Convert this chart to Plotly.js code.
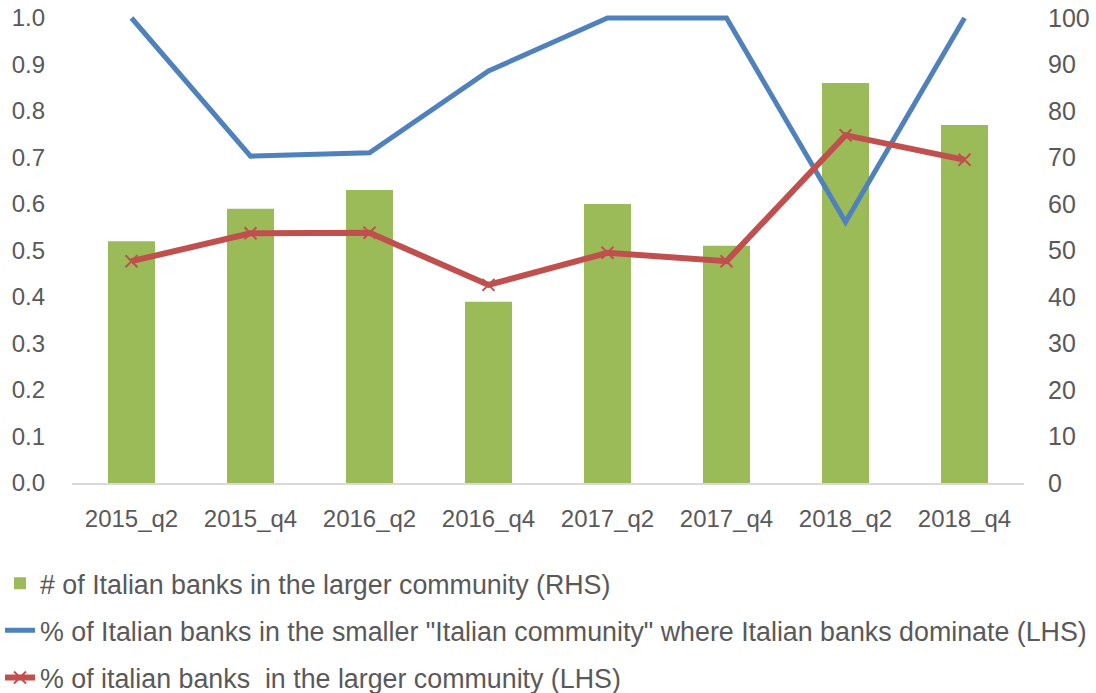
<!DOCTYPE html>
<html>
<head>
<meta charset="utf-8">
<script src="https://cdn.plot.ly/plotly-3.0.1.min.js"></script>
<style>html,body{margin:0;padding:0;background:#fff;}#chart{width:1096px;height:693px;}</style>
</head>
<body>
<div id="chart"></div>
<script>
const categories = ["2015_q2","2015_q4","2016_q2","2016_q4","2017_q2","2017_q4","2018_q2","2018_q4"];
const barValues = [52, 59, 63, 39, 60, 51, 86, 77];
const blueValues = [1.0, 0.703, 0.71, 0.886, 1.0, 1.0, 0.561, 1.0];
const redValues = [0.477, 0.537, 0.538, 0.426, 0.495, 0.477, 0.748, 0.695];
const barName = "# of Italian banks in the larger community (RHS)";
const blueName = "% of Italian banks in the smaller \"Italian community\" where Italian banks dominate (LHS)";
const redName = "% of italian banks  in the larger community (LHS)";

const FONT = "Liberation Sans, Arial, sans-serif";
const GREY = "#595959";
// Bars on the primary (right-hand) axis so the lines, on the overlaying left axis, are drawn above them
const traces = [
  {type:"bar", x:categories, y:barValues, name:barName, yaxis:"y",
   marker:{color:"#9bbb59"}, legendgroup:"a", hoverinfo:"skip"},
  {type:"scatter", mode:"lines", x:categories, y:blueValues, name:blueName, yaxis:"y2",
   line:{color:"#4f81bd", width:5}, legendgroup:"b"},
  {type:"scatter", mode:"lines+markers", x:categories, y:redValues, name:redName, yaxis:"y2",
   line:{color:"#c0504d", width:6}, marker:{symbol:"x-thin", size:12, color:"#c0504d", line:{color:"#c0504d", width:2}},
   legendgroup:"c"}
];
const layout = {
  width:1096, height:693,
  margin:{l:72, r:72, t:14, b:210, autoexpand:false},
  paper_bgcolor:"#fff", plot_bgcolor:"#fff",
  font:{family:FONT, size:24, color:GREY},
  bargap:0.605,
  showlegend:true,
  xaxis:{type:"category", showline:true, linecolor:"#d9d9d9", linewidth:1.5, showgrid:false, zeroline:false,
         ticks:"", ticklabelstandoff:14, tickfont:{family:FONT, size:24, color:GREY}},
  yaxis:{range:[0,100.86], tickvals:[0,10,20,30,40,50,60,70,80,90,100], side:"right", showgrid:false, zeroline:false, showline:false,
         ticks:"", ticklabelstandoff:23, tickfont:{family:FONT, size:25, color:GREY}},
  yaxis2:{range:[0,1.0086], tickvals:[0,0.1,0.2,0.3,0.4,0.5,0.6,0.7,0.8,0.9,1.0], tickformat:".1f", overlaying:"y", side:"left",
          showgrid:false, zeroline:false, showline:false,
          ticks:"", ticklabelstandoff:26, tickfont:{family:FONT, size:24, color:GREY}},
  legend:{orientation:"v", xref:"container", x:0, xanchor:"left", yref:"container", y:0.193, yanchor:"top",
          tracegroupgap:9.3, traceorder:"grouped", font:{family:FONT, size:26.8, color:GREY}, bgcolor:"rgba(0,0,0,0)"}
};
Plotly.newPlot("chart", traces, layout, {displayModeBar:false, staticPlot:true});
</script>
</body>
</html>
